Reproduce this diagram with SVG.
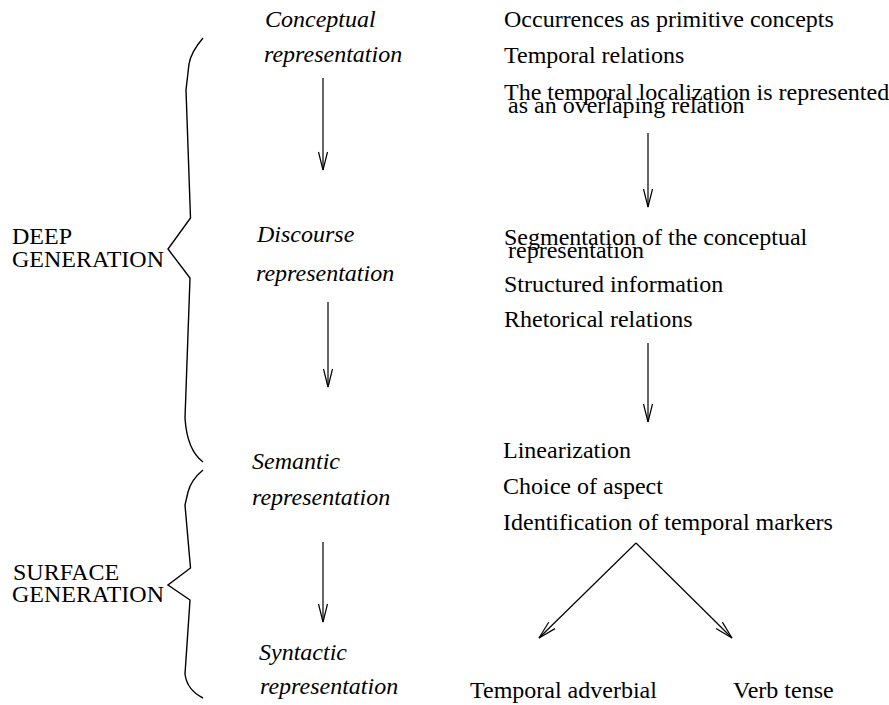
<svg xmlns="http://www.w3.org/2000/svg" width="889" height="705" viewBox="0 0 889 705">
<style>
text{font-family:"Liberation Serif","Times New Roman",serif;font-size:24px;fill:#000}
.it{font-style:italic}
.br{fill:none;stroke:#000;stroke-width:1.4}
.ar{fill:none;stroke:#000;stroke-width:1.2;marker-end:url(#ah)}
</style>
<defs>
<marker id="ah" viewBox="-20 -6 22 12" refX="0" refY="0" markerWidth="22" markerHeight="12" markerUnits="userSpaceOnUse" orient="auto">
<path d="M-18,-4.5 L0,0 L-18,4.5" fill="none" stroke="#000" stroke-width="1.2"/>
</marker>
</defs>
<rect width="889" height="705" fill="#fff"/>
<g id="deep">
<path class="br" d="M203,38 Q191,52 189,64 L186,90 L190.5,218 L168,249 L190,278 L185,418 Q187,450 203,462"/>
<text x="12" y="244">DEEP</text>
<text x="12" y="267">GENERATION</text>
</g>
<g id="surface">
<path class="br" d="M203,470 Q191,480 188,492 L185,505 L190.5,568 L168,585 L190,600 L185,674 Q187,690 203,698"/>
<text x="13" y="580">SURFACE</text>
<text x="12" y="602">GENERATION</text>
</g>
<g id="conceptual">
<text class="it" x="265" y="27">Conceptual</text>
<text class="it" x="264" y="62">representation</text>
</g>
<g id="discourse">
<text class="it" x="257" y="242">Discourse</text>
<text class="it" x="256" y="281">representation</text>
</g>
<g id="semantic">
<text class="it" x="252" y="469">Semantic</text>
<text class="it" x="252" y="505">representation</text>
</g>
<g id="syntactic">
<text class="it" x="259" y="660">Syntactic</text>
<text class="it" x="260" y="694">representation</text>
</g>
<g id="conceptual-tasks">
<text x="504" y="27">Occurrences as primitive concepts</text>
<text x="504" y="63">Temporal relations</text>
<text x="504" y="100">The temporal localization is represented</text>
<text x="508" y="113">as an overlaping relation</text>
</g>
<g id="discourse-tasks">
<text x="504" y="245">Segmentation of the conceptual</text>
<text x="508" y="258">representation</text>
<text x="504" y="292">Structured information</text>
<text x="504" y="327">Rhetorical relations</text>
</g>
<g id="surface-tasks">
<text x="503" y="458">Linearization</text>
<text x="503" y="494">Choice of aspect</text>
<text x="503" y="530">Identification of temporal markers</text>
</g>
<g id="adverbial">
<text x="470" y="698">Temporal adverbial</text>
</g>
<g id="tense">
<text x="733" y="698">Verb tense</text>
</g>
<g id="connectors">
<line class="ar" x1="323" y1="78" x2="323" y2="170"/>
<line class="ar" x1="328" y1="302" x2="328" y2="387"/>
<line class="ar" x1="323" y1="542" x2="323" y2="622"/>
<line class="ar" x1="648" y1="133" x2="648" y2="207"/>
<line class="ar" x1="648" y1="343" x2="648" y2="422"/>
<line class="ar" x1="636" y1="543" x2="539" y2="638"/>
<line class="ar" x1="636" y1="543" x2="732" y2="638"/>
</g>
</svg>
